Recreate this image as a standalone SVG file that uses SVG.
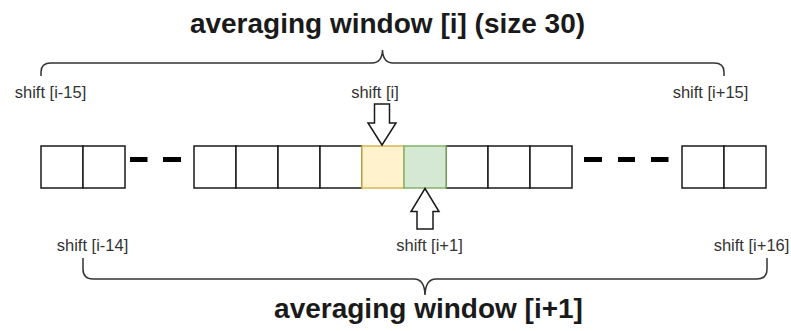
<svg xmlns="http://www.w3.org/2000/svg" width="791" height="331" viewBox="0 0 791 331">
  <style>
    .cell { fill: #ffffff; stroke: #1a1a1a; stroke-width: 1.5; }
    .cur { fill: #fff2cc; stroke: #d6b656; stroke-width: 1.5; }
    .next { fill: #d5e8d4; stroke: #82b366; stroke-width: 1.5; }
    .dash { fill: #000000; }
    .brace { fill: none; stroke: #333333; stroke-width: 1.5; }
    .arrow { fill: #ffffff; stroke: #1a1a1a; stroke-width: 1.5; stroke-linejoin: miter; }
    .lbl { font-family: "Liberation Sans", Arial, sans-serif; font-size: 16.5px; fill: #333333; text-anchor: middle; }
    .title { font-family: "Liberation Sans", Arial, sans-serif; font-size: 28px; font-weight: bold; fill: #1a1a1a; text-anchor: middle; }
  </style>

  <!-- window titles -->
  <g id="title-i">
    <text class="title" x="387.5" y="33">averaging window [i] (size 30)</text>
  </g>
  <g id="title-i1">
    <text class="title" x="428.5" y="318">averaging window [i+1]</text>
  </g>

  <!-- cell array -->
  <g id="cells-left">
    <rect class="cell" x="41" y="146" width="42" height="42"/>
    <rect class="cell" x="83" y="146" width="42" height="42"/>
  </g>
  <g id="gap-left">
    <rect class="dash" x="130" y="157" width="17.5" height="5"/>
    <rect class="dash" x="163" y="157" width="18" height="5"/>
  </g>
  <g id="cells-middle">
    <rect class="cell" x="194" y="146" width="42" height="42"/>
    <rect class="cell" x="236" y="146" width="42" height="42"/>
    <rect class="cell" x="278" y="146" width="42" height="42"/>
    <rect class="cell" x="320" y="146" width="42" height="42"/>
    <rect class="cell" x="446" y="146" width="42" height="42"/>
    <rect class="cell" x="488" y="146" width="42" height="42"/>
    <rect class="cell" x="530" y="146" width="42" height="42"/>
  </g>
  <g id="cell-shift-i">
    <rect class="cur" x="362" y="146" width="42" height="42"/>
  </g>
  <g id="cell-shift-i1">
    <rect class="next" x="404" y="146" width="42" height="42"/>
  </g>
  <g id="gap-right">
    <rect class="dash" x="584" y="157" width="18" height="5"/>
    <rect class="dash" x="618" y="157" width="17" height="5"/>
    <rect class="dash" x="651" y="157" width="17.5" height="5"/>
  </g>
  <g id="cells-right">
    <rect class="cell" x="682" y="146" width="42" height="42"/>
    <rect class="cell" x="724" y="146" width="42" height="42"/>
  </g>

  <!-- pointers and braces -->
  <g id="connectors">
    <path id="brace-top" class="brace" d="M41,76 L41,72 Q41,63 51,63 L372,63 Q382,63 382.5,50 Q383,63 393,63 L714,63 Q724,63 724,72 L724,76"/>
    <path id="brace-bottom" class="brace" d="M83,258 L83,269 Q83,279 93,279 L414,279 Q424.5,279 425,295 Q425.5,279 436,279 L757,279 Q767,279 767,269 L767,258"/>
    <path id="arrow-down" class="arrow" d="M374.5,104 L389.5,104 L389.5,123 L396,123 L382,145 L368,123 L374.5,123 Z"/>
    <path id="arrow-up" class="arrow" d="M425,188.5 L439,211.5 L433,211.5 L433,229 L417,229 L417,211.5 L411,211.5 Z"/>
  </g>

  <!-- shift labels -->
  <g id="labels">
    <text class="lbl" x="50.5" y="97.5">shift [i-15]</text>
    <text class="lbl" x="375" y="97.5">shift [i]</text>
    <text class="lbl" x="710.5" y="97.5">shift [i+15]</text>
    <text class="lbl" x="92.5" y="251">shift [i-14]</text>
    <text class="lbl" x="429.5" y="251">shift [i+1]</text>
    <text class="lbl" x="751.5" y="251">shift [i+16]</text>
  </g>
</svg>
